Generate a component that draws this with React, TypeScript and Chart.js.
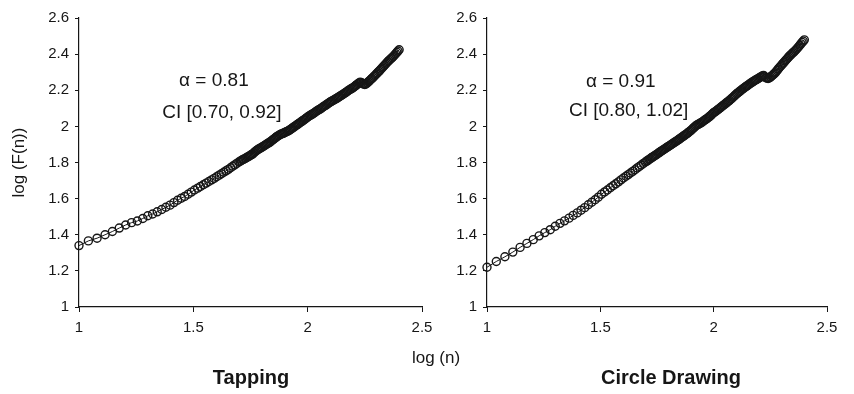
import React, { useEffect, useRef } from "react";
import { Chart, registerables } from "chart.js";

Chart.register(...registerables);

// log(n) positions shared by both panels
const X_LOGN = [
  1.000, 1.041, 1.079, 1.114, 1.146, 1.176, 1.204, 1.230, 1.255, 1.279,
  1.301, 1.322, 1.342, 1.362, 1.380, 1.398, 1.415, 1.431, 1.447, 1.462,
  1.477, 1.491, 1.505, 1.519, 1.531, 1.544, 1.556, 1.568, 1.580, 1.591,
  1.602, 1.613, 1.623, 1.633, 1.643, 1.653, 1.663, 1.672, 1.681, 1.690,
  1.699,
  1.705, 1.710, 1.715, 1.720, 1.725, 1.730, 1.735, 1.740, 1.745, 1.750,
  1.755, 1.760, 1.765, 1.770, 1.775, 1.780, 1.785, 1.790, 1.795, 1.800,
  1.805, 1.810, 1.815, 1.820, 1.825, 1.830, 1.835, 1.840, 1.845, 1.850,
  1.855, 1.860, 1.865, 1.870, 1.875, 1.880, 1.885, 1.890, 1.895, 1.900,
  1.905, 1.910, 1.915, 1.920, 1.925, 1.930, 1.935, 1.940, 1.945, 1.950,
  1.955, 1.960, 1.965, 1.970, 1.975, 1.980, 1.985, 1.990, 1.995, 2.000,
  2.005, 2.010, 2.015, 2.020, 2.025, 2.030, 2.035, 2.040, 2.045, 2.050,
  2.055, 2.060, 2.065, 2.070, 2.075, 2.080, 2.085, 2.090, 2.095, 2.100,
  2.105, 2.110, 2.115, 2.120, 2.125, 2.130, 2.135, 2.140, 2.145, 2.150,
  2.155, 2.160, 2.165, 2.170, 2.175, 2.180, 2.185, 2.190, 2.195, 2.200,
  2.205, 2.210, 2.215, 2.220, 2.225, 2.230, 2.235, 2.240, 2.245, 2.250,
  2.255, 2.260, 2.265, 2.270, 2.275, 2.280, 2.285, 2.290, 2.295, 2.300,
  2.305, 2.310, 2.315, 2.320, 2.325, 2.330, 2.335, 2.340, 2.345, 2.350,
  2.355, 2.360, 2.365, 2.370, 2.375, 2.380, 2.385, 2.390, 2.395, 2.400,
];

// log(F(n)) – Tapping
const Y_TAPPING = [
  1.340, 1.366, 1.381, 1.400, 1.418, 1.437, 1.454, 1.467, 1.476, 1.490,
  1.505, 1.515, 1.527, 1.540, 1.552, 1.564, 1.578, 1.591, 1.602, 1.612,
  1.624, 1.636, 1.648, 1.658, 1.667, 1.677, 1.686, 1.695, 1.704, 1.712,
  1.721, 1.730, 1.738, 1.746, 1.754, 1.762, 1.771, 1.779, 1.787, 1.795,
  1.803,
  1.807, 1.811, 1.815, 1.818, 1.821, 1.825, 1.829, 1.832, 1.836, 1.840,
  1.844, 1.848, 1.854, 1.860, 1.865, 1.870, 1.874, 1.878, 1.881, 1.885,
  1.889, 1.893, 1.897, 1.901, 1.905, 1.909, 1.913, 1.918, 1.923, 1.928,
  1.933, 1.938, 1.943, 1.947, 1.951, 1.955, 1.958, 1.960, 1.963, 1.966,
  1.969, 1.972, 1.975, 1.979, 1.983, 1.988, 1.992, 1.997, 2.001, 2.006,
  2.010, 2.015, 2.019, 2.024, 2.028, 2.033, 2.037, 2.042, 2.047, 2.052,
  2.056, 2.060, 2.064, 2.068, 2.072, 2.076, 2.081, 2.085, 2.089, 2.093,
  2.097, 2.101, 2.106, 2.110, 2.114, 2.118, 2.123, 2.127, 2.132, 2.136,
  2.139, 2.143, 2.146, 2.150, 2.154, 2.158, 2.162, 2.166, 2.170, 2.174,
  2.178, 2.182, 2.187, 2.191, 2.196, 2.200, 2.204, 2.208, 2.212, 2.216,
  2.221, 2.226, 2.231, 2.236, 2.241, 2.245, 2.242, 2.238, 2.234, 2.232,
  2.235, 2.240, 2.246, 2.252, 2.258, 2.264, 2.270, 2.277, 2.283, 2.290,
  2.296, 2.303, 2.309, 2.316, 2.323, 2.330, 2.337, 2.344, 2.351, 2.358,
  2.364, 2.370, 2.376, 2.382, 2.388, 2.395, 2.402, 2.410, 2.417, 2.424,
];

// log(F(n)) – Circle Drawing
const Y_CIRCLE = [
  1.220, 1.252, 1.278, 1.304, 1.330, 1.352, 1.373, 1.394, 1.412, 1.428,
  1.447, 1.463, 1.477, 1.492, 1.507, 1.521, 1.536, 1.550, 1.566, 1.580,
  1.594, 1.608, 1.624, 1.637, 1.648, 1.660, 1.671, 1.682, 1.693, 1.704,
  1.714, 1.724, 1.733, 1.742, 1.751, 1.760, 1.770, 1.778, 1.786, 1.795,
  1.803,
  1.808, 1.812, 1.817, 1.821, 1.826, 1.830, 1.834, 1.838, 1.842, 1.846,
  1.851, 1.855, 1.860, 1.864, 1.868, 1.872, 1.876, 1.880, 1.885, 1.889,
  1.893, 1.897, 1.901, 1.905, 1.910, 1.914, 1.918, 1.922, 1.927, 1.931,
  1.936, 1.940, 1.945, 1.949, 1.954, 1.958, 1.963, 1.968, 1.973, 1.978,
  1.984, 1.990, 1.996, 2.002, 2.006, 2.010, 2.013, 2.017, 2.021, 2.025,
  2.030, 2.034, 2.039, 2.043, 2.048, 2.053, 2.058, 2.064, 2.070, 2.076,
  2.080, 2.084, 2.089, 2.094, 2.099, 2.104, 2.109, 2.114, 2.119, 2.124,
  2.129, 2.134, 2.139, 2.144, 2.150, 2.155, 2.161, 2.167, 2.173, 2.179,
  2.184, 2.189, 2.194, 2.199, 2.204, 2.209, 2.214, 2.218, 2.223, 2.227,
  2.232, 2.236, 2.241, 2.245, 2.249, 2.253, 2.257, 2.260, 2.264, 2.268,
  2.272, 2.275, 2.279, 2.282, 2.276, 2.270, 2.267, 2.265, 2.268, 2.273,
  2.278, 2.283, 2.289, 2.295, 2.302, 2.310, 2.318, 2.326, 2.333, 2.340,
  2.347, 2.354, 2.362, 2.369, 2.376, 2.383, 2.390, 2.396, 2.402, 2.408,
  2.414, 2.420, 2.427, 2.434, 2.441, 2.449, 2.457, 2.465, 2.472, 2.479,
];

const X_TICKS = [1, 1.5, 2, 2.5];
const X_TICK_LABELS = ["1", "1.5", "2", "2.5"];
const Y_TICKS = [1, 1.2, 1.4, 1.6, 1.8, 2, 2.2, 2.4, 2.6];
const Y_TICK_LABELS = ["1", "1.2", "1.4", "1.6", "1.8", "2", "2.2", "2.4", "2.6"];

const PANEL_TITLES = ["Tapping", "Circle Drawing"];
const ALPHA_LABELS = ["\u03b1 = 0.81", "\u03b1 = 0.91"];
const CI_LABELS = ["CI [0.70, 0.92]", "CI [0.80, 1.02]"];
const X_AXIS_TITLE = "log (n)";
const Y_AXIS_TITLE = "log (F(n))";

const FONT = '"Liberation Sans", Arial, Helvetica, sans-serif';
const INK = "#161616";

type TextItem = {
  text: string;
  font: string;
  xValue?: number;
  yValue?: number;
  px?: number;
  py?: number;
};

function textPlugin(items: TextItem[]) {
  return {
    id: "panelText",
    afterDraw(chart: any) {
      const ctx = chart.ctx;
      ctx.save();
      ctx.fillStyle = INK;
      ctx.textAlign = "center";
      ctx.textBaseline = "middle";
      for (const it of items) {
        ctx.font = it.font;
        let x = it.px ?? 0;
        let y = it.py ?? 0;
        if (it.xValue !== undefined && it.yValue !== undefined) {
          x = chart.scales.x.getPixelForValue(it.xValue);
          y = chart.scales.y.getPixelForValue(it.yValue);
        }
        ctx.fillText(it.text, x, y);
      }
      ctx.restore();
    },
  };
}

function buildConfig(
  ys: number[],
  yAxisWidth: number,
  rightPad: number,
  showYTitle: boolean,
  items: TextItem[]
): any {
  const points = X_LOGN.map((x, i) => ({ x, y: ys[i] }));
  return {
    type: "scatter",
    data: {
      datasets: [
        {
          data: points,
          showLine: true,
          borderColor: INK,
          borderWidth: 1,
          pointStyle: "circle",
          pointRadius: 4,
          pointBorderWidth: 1.4,
          pointBorderColor: INK,
          pointBackgroundColor: "rgba(0,0,0,0)",
          tension: 0,
          clip: false,
        },
      ],
    },
    options: {
      responsive: false,
      animation: false,
      events: [],
      layout: { padding: { left: 0, top: 18, right: rightPad, bottom: 0 } },
      plugins: { legend: { display: false }, tooltip: { enabled: false } },
      scales: {
        x: {
          type: "linear",
          min: 1,
          max: 2.5,
          afterBuildTicks: (s: any) => {
            s.ticks = X_TICKS.map((v) => ({ value: v }));
          },
          afterFit: (s: any) => {
            s.height = 87;
          },
          ticks: {
            callback: (v: number) => X_TICK_LABELS[X_TICKS.indexOf(v)] ?? "",
            font: { size: 15, family: FONT },
            color: INK,
            padding: 7,
            maxRotation: 0,
            autoSkip: false,
          },
          grid: {
            display: true,
            drawOnChartArea: false,
            drawTicks: true,
            tickLength: 5,
            color: INK,
            lineWidth: 1,
          },
          border: { display: true, color: INK, width: 1.2 },
        },
        y: {
          type: "linear",
          min: 1,
          max: 2.6,
          afterBuildTicks: (s: any) => {
            s.ticks = Y_TICKS.map((v) => ({ value: v }));
          },
          afterFit: (s: any) => {
            s.width = yAxisWidth;
          },
          ticks: {
            callback: (v: number) => Y_TICK_LABELS[Y_TICKS.indexOf(v)] ?? "",
            font: { size: 15, family: FONT },
            color: INK,
            padding: 6,
            autoSkip: false,
          },
          grid: {
            display: true,
            drawOnChartArea: false,
            drawTicks: true,
            tickLength: 4,
            color: INK,
            lineWidth: 1,
          },
          border: { display: true, color: INK, width: 1.2 },
          title: {
            display: showYTitle,
            text: Y_AXIS_TITLE,
            font: { size: 17, family: FONT },
            color: INK,
            padding: { top: 9, bottom: 0 },
          },
        },
      },
    },
    plugins: [textPlugin(items)],
  };
}

export default function App() {
  const leftRef = useRef<HTMLCanvasElement | null>(null);
  const rightRef = useRef<HTMLCanvasElement | null>(null);

  useEffect(() => {
    Chart.defaults.font.family = FONT;
    const annFont = `19px ${FONT}`;
    const titleFont = `bold 20px ${FONT}`;
    const axisFont = `17px ${FONT}`;

    const left = new Chart(
      leftRef.current as HTMLCanvasElement,
      buildConfig(Y_TAPPING, 79, 48, true, [
        { text: ALPHA_LABELS[0], font: annFont, xValue: 1.59, yValue: 2.254 },
        { text: CI_LABELS[0], font: annFont, xValue: 1.625, yValue: 2.077 },
        { text: PANEL_TITLES[0], font: titleFont, px: 251, py: 378 },
        { text: X_AXIS_TITLE, font: axisFont, px: 436, py: 358 },
      ])
    );
    const right = new Chart(
      rightRef.current as HTMLCanvasElement,
      buildConfig(Y_CIRCLE, 57, 27, false, [
        { text: ALPHA_LABELS[1], font: annFont, xValue: 1.59, yValue: 2.248 },
        { text: CI_LABELS[1], font: annFont, xValue: 1.625, yValue: 2.087 },
        { text: PANEL_TITLES[1], font: titleFont, px: 241, py: 378 },
      ])
    );
    return () => {
      left.destroy();
      right.destroy();
    };
  }, []);

  return (
    <div
      style={{
        position: "fixed",
        left: 0,
        top: 0,
        width: 854,
        height: 394,
        background: "#ffffff",
        overflow: "hidden",
      }}
    >
      <canvas
        ref={leftRef}
        width={470}
        height={394}
        style={{ position: "absolute", left: 0, top: 0, width: 470, height: 394 }}
      />
      <canvas
        ref={rightRef}
        width={424}
        height={394}
        style={{ position: "absolute", left: 430, top: 0, width: 424, height: 394 }}
      />
    </div>
  );
}
